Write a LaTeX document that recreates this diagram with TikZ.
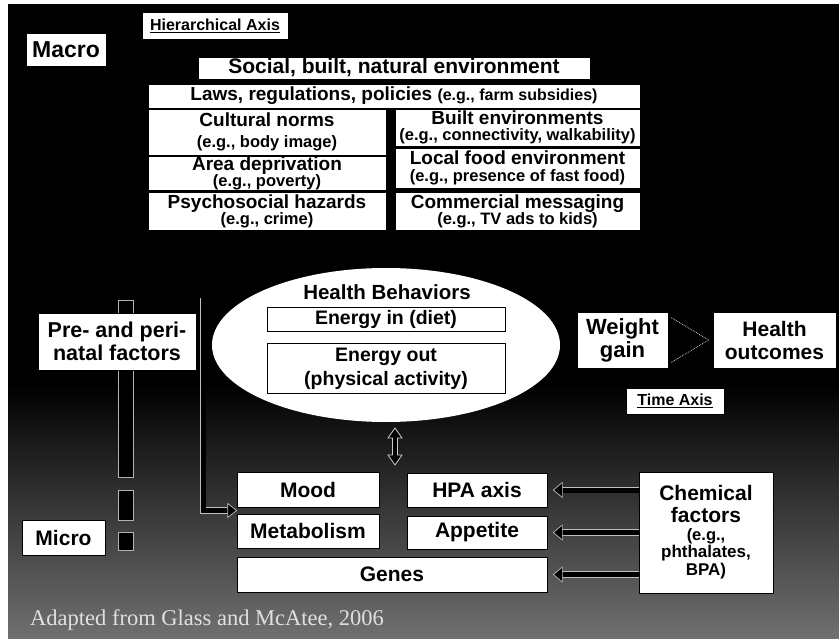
\documentclass[tikz,border=0pt]{standalone}
\usepackage{fontspec}
\setmainfont{Liberation Sans}
\newfontfamily\creditfont{Liberation Serif}
\usetikzlibrary{shapes.geometric,calc,arrows.meta}
\definecolor{bggray}{rgb}{0.44,0.44,0.44}
\newcommand{\fsz}[2]{\fontsize{#1}{#2}\selectfont}
\newcommand{\twoline}[3][0pt]{\begin{tabular}{@{}c@{}}\fsz{19}{19}#2\\[#1]\fsz{16.5}{17}#3\end{tabular}}
\begin{document}
\begin{tikzpicture}[x=1pt,y=-1pt,
  box/.style={draw=black,line width=0.7pt,fill=white,inner sep=0pt,align=center,text=black},
  axisbar/.style={draw=white!70!black,fill=black,line width=0.7pt},
  hollow/.style={draw=white!75!black,line width=0.7pt,double=black,double distance=5pt},
  tipfill/.style={draw=white!75!black,fill=black,line width=0.7pt,line join=miter},
  outline/.style={draw=white!80!black,fill=black,line width=0.8pt,line join=miter}]
\useasboundingbox (0,0) rectangle (839,639);
\fill[white] (0,0) rectangle (839,639);
\fill[black] (8,4) rectangle (839,385);
\shade[top color=black,bottom color=bggray] (8,384) rectangle (839,639);

% hierarchical axis bar
\draw[axisbar] (118,300) rectangle (133,477);
\draw[axisbar] (118,490) rectangle (133,520);
\draw[axisbar] (118,532) rectangle (133,550);

% top
\node[box,minimum width=146,minimum height=27,font=\bfseries\fsz{16}{16}] (hier) at (215,25.5) {\underline{Hierarchical Axis}};
\node[box,minimum width=80,minimum height=33,font=\bfseries\fsz{23}{23}] (macro) at (66,49.5) {Macro};
\node[box,minimum width=392,minimum height=22,font=\bfseries\fsz{21}{21}] (social) at (394,68) {Social, built, natural environment};
\node[box,minimum width=492,minimum height=24,font=\bfseries\fsz{19}{19}] (laws) at (394,96) {Laws, regulations, policies {\fsz{16}{16}(e.g., farm subsidies)}};
\node[box,minimum width=238,minimum height=46,font=\bfseries] (cult) at (267,132) {\twoline[5pt]{Cultural norms}{(e.g., body image)}};
\node[box,minimum width=238,minimum height=33,font=\bfseries] (area) at (267,173.5) {\twoline[0.5pt]{Area deprivation}{(e.g., poverty)}};
\node[box,minimum width=238,minimum height=38,font=\bfseries] (psych) at (267,211) {\twoline[0.5pt]{Psychosocial hazards}{(e.g., crime)}};
\node[box,minimum width=245,minimum height=37,font=\bfseries] (built) at (517.5,127.5) {\twoline[0.5pt]{Built environments}{(e.g., connectivity, walkability)}};
\node[box,minimum width=245,minimum height=40,font=\bfseries] (food) at (517.5,168) {\twoline[1pt]{Local food environment}{(e.g., presence of fast food)}};
\node[box,minimum width=245,minimum height=38,font=\bfseries] (comm) at (517.5,211) {\twoline[0.5pt]{Commercial messaging}{(e.g., TV ads to kids)}};

% bottom boxes
\node[box,minimum width=142,minimum height=35,font=\bfseries\fsz{21}{21}] (mood) at (308,489.5) {Mood};
\node[box,minimum width=142,minimum height=34,font=\bfseries\fsz{21}{21}] (metab) at (308,531) {Metabolism};
\node[box,minimum width=140,minimum height=34,font=\bfseries\fsz{21}{21}] (hpa) at (477,490) {HPA axis};
\node[box,minimum width=140,minimum height=33,font=\bfseries\fsz{21}{21}] (app) at (477,532.5) {Appetite};
\node[box,minimum width=310,minimum height=35,font=\bfseries\fsz{21}{21}] (genes) at (392,574.5) {Genes};
\node[box,minimum width=134,minimum height=121,font=\bfseries] (chem) at (706,532.5) {\begin{tabular}{@{}c@{}}\fsz{21}{21}Chemical\\[3pt]\fsz{21}{21}factors\\[2pt]\fsz{16.5}{17}(e.g.,\\[2pt]\fsz{17}{17}phthalates,\\[2pt]\fsz{17}{17}BPA)\end{tabular}};
\node[box,minimum width=83,minimum height=35,font=\bfseries\fsz{21}{21}] (micro) at (63.5,537.5) {Micro};

% L-shaped connector from the macro level down to the micro boxes
\coordinate (ppTop) at (203,298);
\coordinate (mmW) at ($(mood.south west)!0.5!(metab.north west)$);
\draw[hollow] (ppTop) |- ([xshift=-7pt]mmW);
\draw[tipfill] ($(mmW)+(-9,-7)$) -- (mmW) -- ($(mmW)+(-9,7)$) -- cycle;

% middle
\node[ellipse,fill=white,draw=none,minimum width=348,minimum height=154,inner sep=0pt] (hb) at (386,345) {};
\node[font=\bfseries\fsz{20.5}{21},inner sep=0pt] (hbt) at (387,292) {Health Behaviors};
\node[box,line width=1pt,minimum width=238,minimum height=24,font=\bfseries\fsz{19.5}{20}] (ein) at (386,320) {Energy in (diet)};
\node[box,line width=1pt,minimum width=238,minimum height=50,font=\bfseries\fsz{19.5}{24}] (eout) at (386,369) {Energy out\\(physical activity)};
\node[box,minimum width=158,minimum height=57,font=\bfseries\fsz{21.5}{23}] (pre) at (117,341.5) {Pre- and peri-\\natal factors};
\node[box,minimum width=91,minimum height=56,font=\bfseries\fsz{22}{23}] (wg) at (622.5,340) {Weight\\gain};
\node[box,minimum width=123,minimum height=56,font=\bfseries\fsz{21}{23}] (ho) at (774.5,340) {Health\\outcomes};
\node[box,minimum width=98,minimum height=26,font=\bfseries\fsz{16}{16}] (time) at (675,401) {\underline{Time Axis}};

% weight gain -> health outcomes (faint)
\draw[gray!40,densely dotted,line width=0.8pt] ($(wg.north east)+(3,6)$) -- ($(ho.west)+(-4,0)$) -- ($(wg.south east)+(3,-6)$);

% double arrow between behaviors and biology
\coordinate (va) at (395,446.5);
\draw[outline] ($(va)+(0,-18.5)$) -- ++(7,10) -- ++(-4.5,0) -- ++(0,17) -- ++(4.5,0) -- ++(-7,10) -- ++(-7,-10) -- ++(4.5,0) -- ++(0,-17) -- ++(-4.5,0) -- cycle;

% chemical factors arrows
\foreach \t in {hpa,app,genes}{
  \draw[hollow] (chem.west |- \t.east) -- ([xshift=15pt]\t.east);
  \draw[tipfill] ($(\t.east)+(15,-7.5)$) -- ($(\t.east)+(6,0)$) -- ($(\t.east)+(15,7.5)$) -- cycle;
}

\node[font=\creditfont\fsz{22.5}{23},text=white!88!black,anchor=west,inner sep=0pt] (credit) at (30,620) {Adapted from Glass and McAtee, 2006};
\end{tikzpicture}
\end{document}
